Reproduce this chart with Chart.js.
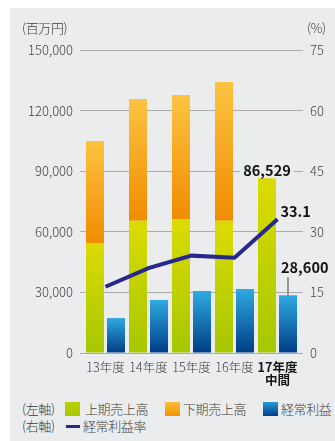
<!DOCTYPE html>
<html lang="ja">
<head>
<meta charset="utf-8">
<script src="https://cdn.jsdelivr.net/npm/chart.js@4.4.1/dist/chart.umd.min.js"></script>
<style>
    html, body { margin: 0; padding: 0; background: #ffffff; }
    body { width: 335px; height: 441px; position: relative; overflow: hidden;
           font-family: "Noto Sans CJK JP", "Noto Sans", sans-serif; color: #3c3c3c; }
    #panel { position: absolute; left: 10px; top: 8px; right: 0; bottom: 0; background: #ebecee; }
    #chart { position: absolute; left: 0; top: 0; }
    .txt { position: absolute; font-size: 13px; line-height: 16px; white-space: nowrap; letter-spacing: -0.4px; font-weight: 300; }
    .sw { position: absolute; width: 15px; height: 14px; }
</style>
</head>
<body>
<div id="panel"></div>
<canvas id="chart" width="335" height="395"></canvas>

<div class="txt" style="left:22px; top:20px;">(百万円)</div>
<div class="txt" style="left:307px; top:20px;">(%)</div>

<!-- legend -->
<div class="txt" style="left:22px; top:401px;">(左軸)</div>
<div class="sw" style="left:65px; top:402px; background:linear-gradient(#b8d000,#a8c800);"></div>
<div class="txt" style="left:85px; top:401px;">上期売上高</div>
<div class="sw" style="left:165px; top:402px; background:linear-gradient(#fbbd3a,#f39200);"></div>
<div class="txt" style="left:183px; top:401px;">下期売上高</div>
<div class="sw" style="left:263px; top:402px; background:linear-gradient(#2a9ad8,#003f87);"></div>
<div class="txt" style="left:281px; top:401px;">経常利益</div>
<div class="txt" style="left:22px; top:418px;">(右軸)</div>
<div class="sw" style="left:66px; top:425px; width:14px; height:3px; background:#27278c;"></div>
<div class="txt" style="left:83px; top:418px;">経常利益率</div>

<script>
// ---- data ----
const categories = ['13年度', '14年度', '15年度', '16年度', ['17年度', '中間']];
const firstHalfSales = [54500, 65500, 66300, 65500, 86529];   // 上期売上高
const secondHalfSales = [50500, 60200, 61400, 68700, 0];      // 下期売上高
const ordinaryProfit = [17300, 26200, 30700, 31700, 28600];   // 経常利益
const profitRate = [16.4, 21.0, 24.1, 23.6, 33.1];            // 経常利益率 (%)
const leftTicks = [0, 30000, 60000, 90000, 120000, 150000];
const rightTicks = [0, 15, 30, 45, 60, 75];

const PANEL_BG = '#ebecee';
const GRID = '#ababab';
const FONT = '"Noto Sans CJK JP", sans-serif';

/**
 * barGradient
 * Builds a vertical gradient spanning one bar (from its base value to its top value).
 */
function barGradient(chart, from, to, top, bottom) {
    const y = chart.scales.y;
    if (!chart.chartArea || !y) return bottom;
    const yTop = y.getPixelForValue(to);
    const yBot = y.getPixelForValue(from);
    const g = chart.ctx.createLinearGradient(0, yTop, 0, Math.max(yBot, yTop + 1));
    g.addColorStop(0, top);
    g.addColorStop(1, bottom);
    return g;
}

// value labels (86,529 / 33.1 / 28,600)
const valueLabels = {
    id: 'valueLabels',
    afterDatasetsDraw(chart) {
        const c = chart.ctx;
        const last = categories.length - 1;
        c.save();
        c.font = 'bold 14.5px ' + FONT;
        c.textBaseline = 'middle';

        // 上期売上高 label over the green bar
        const green = chart.getDatasetMeta(1).data[last];
        const t1 = firstHalfSales[last].toLocaleString('en-US');
        const w1 = c.measureText(t1).width;
        c.fillStyle = PANEL_BG;
        c.fillRect(green.x - w1 / 2 - 3, green.y - 17, w1 + 6, 16);
        c.fillStyle = '#141414';
        c.textAlign = 'center';
        c.fillText(t1, green.x, green.y - 8);

        // 経常利益率 label next to the last point
        const pt = chart.getDatasetMeta(0).data[last];
        c.textAlign = 'left';
        c.fillText(profitRate[last].toFixed(1), pt.x + 3, pt.y - 8);

        // 経常利益 label with a leader line
        const blue = chart.getDatasetMeta(3).data[last];
        c.strokeStyle = '#7a7a7a';
        c.lineWidth = 1.5;
        c.beginPath();
        c.moveTo(blue.x, blue.y - 18);
        c.lineTo(blue.x, blue.y);
        c.stroke();
        c.fillText(ordinaryProfit[last].toLocaleString('en-US'), blue.x - 7, blue.y - 28);
        c.restore();
    }
};

new Chart(document.getElementById('chart'), {
    type: 'bar',
    data: {
        labels: categories,
        datasets: [
            {
                type: 'line',
                label: '経常利益率',
                data: profitRate,
                yAxisID: 'y1',
                borderColor: '#27278c',
                borderWidth: 4,
                borderCapStyle: 'butt',
                pointRadius: 0,
                tension: 0,
                order: 0
            },
            {
                label: '上期売上高',
                data: firstHalfSales,
                stack: 'sales',
                order: 1,
                backgroundColor: ctx => barGradient(ctx.chart, 0, firstHalfSales[ctx.dataIndex],
                    '#dcdb00', '#a6c700')
            },
            {
                label: '下期売上高',
                data: secondHalfSales,
                stack: 'sales',
                order: 1,
                backgroundColor: ctx => barGradient(ctx.chart, firstHalfSales[ctx.dataIndex],
                    firstHalfSales[ctx.dataIndex] + secondHalfSales[ctx.dataIndex], '#fcc342', '#f08c00')
            },
            {
                label: '経常利益',
                data: ordinaryProfit,
                stack: 'profit',
                order: 1,
                backgroundColor: ctx => barGradient(ctx.chart, 0, ordinaryProfit[ctx.dataIndex],
                    '#2faae2', '#003c85')
            }
        ]
    },
    options: {
        responsive: false,
        animation: false,
        devicePixelRatio: 1,
        categoryPercentage: 42 / 43,
        barPercentage: 18 / 21,
        layout: { padding: { top: 50, left: 0, right: 0, bottom: 0 } },
        plugins: { legend: { display: false }, tooltip: { enabled: false } },
        scales: {
            x: {
                stacked: true,
                grid: { display: false, drawTicks: false },
                border: { display: false },
                afterFit: s => { s.height = 42; },
                ticks: {
                    padding: 7,
                    autoSkip: false,
                    maxRotation: 0,
                    minRotation: 0,
                    color: ctx => ctx.index === categories.length - 1 ? '#141414' : '#3c3c3c',
                    font: ctx => ({
                        family: FONT,
                        size: 12.5,
                        lineHeight: 1.1,
                        weight: ctx.index === categories.length - 1 ? 'bold' : '300'
                    })
                }
            },
            y: {
                stacked: true,
                position: 'left',
                min: 0,
                max: leftTicks[leftTicks.length - 1],
                afterBuildTicks: s => { s.ticks = leftTicks.map(v => ({ value: v })); },
                afterFit: s => { s.width = 84; },
                grid: { color: GRID, lineWidth: 1, tickLength: 4, tickColor: GRID },
                border: { display: false },
                ticks: {
                    padding: 7,
                    color: '#444',
                    font: { family: FONT, size: 13, weight: '300' },
                    callback: v => v.toLocaleString('en-US')
                }
            },
            y1: {
                position: 'right',
                min: 0,
                max: rightTicks[rightTicks.length - 1],
                afterBuildTicks: s => { s.ticks = rightTicks.map(v => ({ value: v })); },
                afterFit: s => { s.width = 36; },
                grid: { drawOnChartArea: false, tickLength: 4, tickColor: GRID, lineWidth: 1 },
                border: { display: false },
                ticks: {
                    padding: 7,
                    color: '#444',
                    font: { family: FONT, size: 13, weight: '300' }
                }
            }
        }
    },
    plugins: [valueLabels]
});
</script>
</body>
</html>
